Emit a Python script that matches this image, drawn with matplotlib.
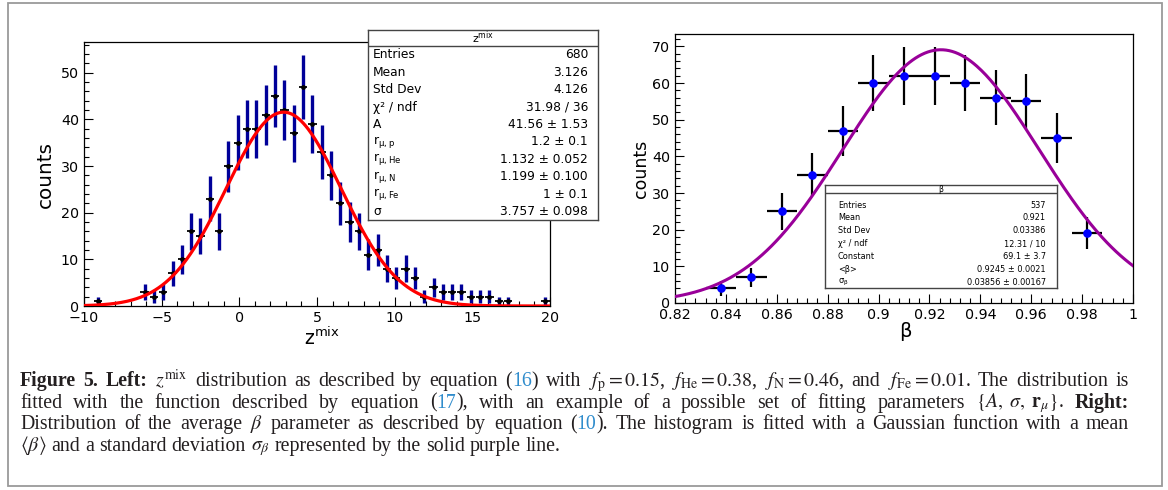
import re
import numpy as np
import matplotlib
matplotlib.use("Agg")
import matplotlib.pyplot as plt
from matplotlib.patches import Rectangle
from matplotlib.ticker import MultipleLocator, FuncFormatter

# ---- data ----
# left: z^mix histogram, 50 bins from -10 to 20
z_edges = np.linspace(-10, 20, 51)
z_counts = [0, 1, 0, 0, 0, 0, 3, 2, 3, 7,
            10, 16, 15, 23, 16, 30, 35, 38, 38, 41,
            45, 42, 37, 47, 39, 33, 28, 22, 18, 16,
            11, 12, 8, 6, 8, 6, 2, 4, 3, 3,
            3, 2, 2, 2, 1, 1, 0, 0, 0, 1]
z_fit_A = 41.56
z_fit_mean = 2.85
z_fit_sigma = 3.7

z_stat_labels = ["Entries", "Mean", "Std Dev", "\u03c7\u00b2 / ndf", "A",
                 "r$_{\\mathrm{\u03bc,p}}$", "r$_{\\mathrm{\u03bc,He}}$",
                 "r$_{\\mathrm{\u03bc,N}}$", "r$_{\\mathrm{\u03bc,Fe}}$", "\u03c3"]
z_stat_values = ["680", "3.126", "4.126", "31.98 / 36", "41.56 \u00b1 1.53",
                 "1.2 \u00b1 0.1", "1.132 \u00b1 0.052", "1.199 \u00b1 0.100",
                 "1 \u00b1 0.1", "3.757 \u00b1 0.098"]

# right: beta histogram, 15 bins from 0.82 to 1.0
b_edges = np.linspace(0.82, 1.0, 16)
b_counts = [0, 4, 7, 25, 35, 47, 60, 62, 62, 60, 56, 55, 45, 19, 0]
b_fit_const = 69.1
b_fit_mean = 0.9245
b_fit_sigma = 0.03856

b_stat_labels = ["Entries", "Mean", "Std Dev", "\u03c7\u00b2 / ndf", "Constant",
                 "<\u03b2>", "\u03c3$_{\\mathrm{\u03b2}}$"]
b_stat_values = ["537", "0.921", "0.03386", "12.31 / 10", "69.1 \u00b1 3.7",
                 "0.9245 \u00b1 0.0021", "0.03856 \u00b1 0.00167"]

caption = [
    "**Figure** **5.** **Left:** $z^{\\mathrm{mix}}$ distribution as described by equation ([16]) with "
    "$f_{\\mathrm{p}}=0.15$, $f_{\\mathrm{He}}=0.38$, $f_{\\mathrm{N}}=0.46$, and $f_{\\mathrm{Fe}}=0.01$. The distribution is",
    "fitted with the function described by equation ([17]), with an example of a possible set of fitting "
    "parameters $\\{A,\\;\\sigma,\\;\\mathbf{r}_{\\mu}\\}$. **Right:**",
    "Distribution of the average $\\beta$ parameter as described by equation ([10]). The histogram is fitted "
    "with a Gaussian function with a mean",
    "$\\langle\\beta\\rangle$ and a standard deviation $\\sigma_{\\beta}$ represented by the solid purple line.",
]

# ---- figure ----
W, H = 1168, 490
plt.rcParams["font.family"] = "DejaVu Sans"
plt.rcParams["mathtext.fontset"] = "dejavusans"
fig = plt.figure(figsize=(W / 100, H / 100), dpi=100)


def fx(x):
    return x / W


def fy(y):
    return 1 - y / H


def root_axes(rect):
    ax = fig.add_axes(rect)
    ax.tick_params(which="both", direction="in", top=False, right=False,
                   labelsize=10.3, pad=3.5, width=0.8)
    ax.tick_params(which="major", length=6.5)
    ax.tick_params(which="minor", length=3.3)
    for s in ax.spines.values():
        s.set_linewidth(0.9)
    return ax


# left panel
ax1 = root_axes([fx(84), fy(306), fx(550) - fx(84), fy(42) - fy(306)])
zc = 0.5 * (z_edges[1:] + z_edges[:-1])
zn = np.array(z_counts, dtype=float)
m = zn > 0
ax1.errorbar(zc[m], zn[m], yerr=np.sqrt(zn[m]), fmt="none", ecolor="#000099",
             elinewidth=2.4, capsize=0, zorder=2)
ax1.errorbar(zc[m], zn[m], xerr=0.27, fmt="o", ms=2.4, color="black",
             ecolor="black", elinewidth=1.3, capsize=0, zorder=3)
xs = np.linspace(-10, 20, 400)
ax1.plot(xs, z_fit_A * np.exp(-0.5 * ((xs - z_fit_mean) / z_fit_sigma) ** 2),
         color="#ff0000", lw=2.3, zorder=4)
ax1.set_xlim(-10, 20)
ax1.set_ylim(0, 56.6)
ax1.xaxis.set_major_locator(MultipleLocator(5))
ax1.xaxis.set_minor_locator(MultipleLocator(1))
ax1.yaxis.set_major_locator(MultipleLocator(10))
ax1.yaxis.set_minor_locator(MultipleLocator(2))
fig.text(fx(45), fy(174), "counts", rotation=90, fontsize=14.4, ha="center", va="center")
fig.text(fx(322), fy(345), "z$^{\\mathrm{mix}}$", fontsize=13.5, ha="center", va="baseline")

# right panel
ax2 = root_axes([fx(675), fy(303), fx(1133) - fx(675), fy(34) - fy(303)])
bc = 0.5 * (b_edges[1:] + b_edges[:-1])
bn = np.array(b_counts, dtype=float)
m = bn > 0
ax2.errorbar(bc[m], bn[m], yerr=np.sqrt(bn[m]), xerr=0.006, fmt="o", ms=5.2,
             mfc="#0000ff", mec="#0000ff", ecolor="black", elinewidth=1.6,
             capsize=0, zorder=3)
xs = np.linspace(0.82, 1.0, 300)
ax2.plot(xs, b_fit_const * np.exp(-0.5 * ((xs - b_fit_mean) / b_fit_sigma) ** 2),
         color="#990099", lw=2.2, zorder=4)
ax2.set_xlim(0.82, 1.0)
ax2.set_ylim(0, 73.4)
ax2.xaxis.set_major_locator(MultipleLocator(0.02))
ax2.xaxis.set_minor_locator(MultipleLocator(0.004))
ax2.yaxis.set_major_locator(MultipleLocator(10))
ax2.yaxis.set_minor_locator(MultipleLocator(2))
ax2.xaxis.set_major_formatter(FuncFormatter(lambda v, p: f"{round(v, 3):g}"))
fig.text(fx(641), fy(169), "counts", rotation=90, fontsize=12.5, ha="center", va="center")
fig.text(fx(905), fy(337), "\u03b2", fontsize=14, ha="center", va="baseline")


# stat boxes
def stat_box(x0, x1, y0, y1, ysep, title, title_y, labels, values, ys, lx, rx, fs, tfs):
    bx = fig.add_axes([fx(x0), fy(y1), fx(x1) - fx(x0), fy(y0) - fy(y1)])
    bx.set_xlim(x0, x1)
    bx.set_ylim(y1, y0)
    bx.set_xticks([])
    bx.set_yticks([])
    for s in bx.spines.values():
        s.set_linewidth(1.0)
        s.set_color("#444444")
    bx.axhline(ysep, color="#444444", lw=1.0)
    bx.text((x0 + x1) / 2, title_y, title, fontsize=tfs, ha="center", va="center")
    for lab, val, yy in zip(labels, values, ys):
        bx.text(lx, yy, lab, fontsize=fs, ha="left", va="center")
        bx.text(rx, yy, val, fontsize=fs, ha="right", va="center")


stat_box(368, 598, 30, 220, 46, "z$^{\\mathrm{mix}}$", 37.5, z_stat_labels, z_stat_values,
         [55 + 17.4 * i for i in range(10)], 373, 588, 8.8, 8)
stat_box(825, 1057, 185, 288, 193.5, "\u03b2", 189, b_stat_labels, b_stat_values,
         [205 + 12.9 * i for i in range(7)], 838, 1046, 5.9, 5.5)

# caption
fig.patches.append(Rectangle((fx(8), fy(486)), fx(1162) - fx(8), fy(3) - fy(486),
                             transform=fig.transFigure, fill=False,
                             edgecolor="#9a9a9a", lw=1.3))
cap_fs = 14.3
renderer = fig.canvas.get_renderer()


def caption_line(line, y, justify, x0=20, x1=1129):
    words = []
    for w in line.split(" "):
        pieces = []
        for part in re.split(r"(\*\*.+?\*\*|\[.+?\])", w):
            if not part:
                continue
            weight, color = "normal", "#231f20"
            if part.startswith("**"):
                part, weight = part[2:-2], "bold"
            elif part.startswith("["):
                part, color = part[1:-1], "#2f8ccc"
            t = fig.text(0, fy(y), part, fontsize=cap_fs, family="Liberation Serif",
                         weight=weight, color=color, math_fontfamily="stix",
                         ha="left", va="baseline")
            pieces.append(t)
        words.append(pieces)
    widths = [[t.get_window_extent(renderer).width for t in p] for p in words]
    total = sum(sum(w) for w in widths)
    gap = cap_fs * 100 / 72 * 0.25
    if justify:
        gap = (x1 - x0 - total) / (len(words) - 1)
    x = x0
    for pieces, ws in zip(words, widths):
        for t, wd in zip(pieces, ws):
            t.set_x(fx(x))
            x += wd
        x += gap


for i, line in enumerate(caption):
    caption_line(line, 386 + 21.5 * i, i < 3)

fig.savefig("out.png", dpi=100)
